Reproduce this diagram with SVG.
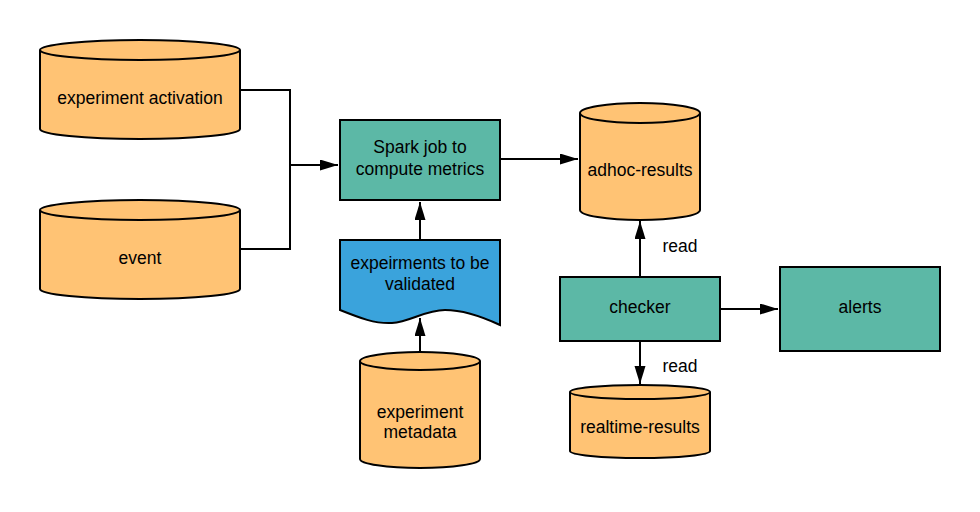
<svg xmlns="http://www.w3.org/2000/svg" width="980" height="512" viewBox="0 0 980 512">
<defs>
<style>
.db{fill:#FFC374;stroke:#000;stroke-width:2}
.proc{fill:#5CB8A6;stroke:#000;stroke-width:2}
.doc{fill:#3AA3DC;stroke:#000;stroke-width:2}
.t{font-family:"Liberation Sans",Arial,sans-serif;font-size:17.5px;fill:#000;text-anchor:middle}
.c{fill:none;stroke:#000;stroke-width:2}
</style>
<marker id="ah" markerUnits="userSpaceOnUse" markerWidth="20" markerHeight="12" refX="18" refY="5.5" orient="auto">
<path d="M0,0 L18,5.5 L0,11 z" fill="#000"/>
</marker>
</defs>
<rect width="980" height="512" fill="#fff"/>

<g id="connectors">
<path class="c" d="M240,90 H290 V249 H240"/>
<path class="c" d="M290,165 H338" marker-end="url(#ah)"/>
<path class="c" d="M500,159 H578" marker-end="url(#ah)"/>
<path class="c" d="M420,240 V202" marker-end="url(#ah)"/>
<path class="c" d="M420,351 V318" marker-end="url(#ah)"/>
<path class="c" d="M640,277 V221" marker-end="url(#ah)"/>
<path class="c" d="M720,309 H778" marker-end="url(#ah)"/>
<path class="c" d="M640,341 V384" marker-end="url(#ah)"/>
<text class="t" x="680" y="252">read</text>
<text class="t" x="680" y="372">read</text>
</g>

<g id="experiment-activation">
<path class="db" d="M40,50 V129 A100,10 0 0 0 240,129 V50 A100,10 0 0 0 40,50 Z"/>
<path class="c" d="M40,50 A100,10 0 0 0 240,50"/>
<text class="t" x="140" y="104">experiment activation</text>
</g>

<g id="event">
<path class="db" d="M40,210 V289 A100,10 0 0 0 240,289 V210 A100,10 0 0 0 40,210 Z"/>
<path class="c" d="M40,210 A100,10 0 0 0 240,210"/>
<text class="t" x="140" y="264">event</text>
</g>

<g id="spark-job">
<rect class="proc" x="340" y="120" width="160" height="80"/>
<text class="t" x="420" y="153">Spark job to</text>
<text class="t" x="420" y="175">compute metrics</text>
</g>

<g id="experiments-to-be-validated">
<path class="doc" d="M340,240 H500 V325 C485,318 465,310 445,310 C425,310 410,322 392,323 C375,324 360,318 340,310 Z"/>
<text class="t" x="420" y="269">expeirments to be</text>
<text class="t" x="420" y="290">validated</text>
</g>

<g id="experiment-metadata">
<path class="db" d="M360,361 V459 A60,9 0 0 0 480,459 V361 A60,9 0 0 0 360,361 Z"/>
<path class="c" d="M360,361 A60,9 0 0 0 480,361"/>
<text class="t" x="420" y="418">experiment</text>
<text class="t" x="420" y="438">metadata</text>
</g>

<g id="adhoc-results">
<path class="db" d="M580,113 V210 A60,10 0 0 0 700,210 V113 A60,10 0 0 0 580,113 Z"/>
<path class="c" d="M580,113 A60,10 0 0 0 700,113"/>
<text class="t" x="640" y="176">adhoc-results</text>
</g>

<g id="checker">
<rect class="proc" x="560" y="277" width="160" height="64"/>
<text class="t" x="640" y="313">checker</text>
</g>

<g id="alerts">
<rect class="proc" x="780" y="267" width="160" height="84"/>
<text class="t" x="860" y="313">alerts</text>
</g>

<g id="realtime-results">
<path class="db" d="M570,392 V451 A70,7 0 0 0 710,451 V392 A70,7 0 0 0 570,392 Z"/>
<path class="c" d="M570,392 A70,7 0 0 0 710,392"/>
<text class="t" x="640" y="433">realtime-results</text>
</g>
</svg>
